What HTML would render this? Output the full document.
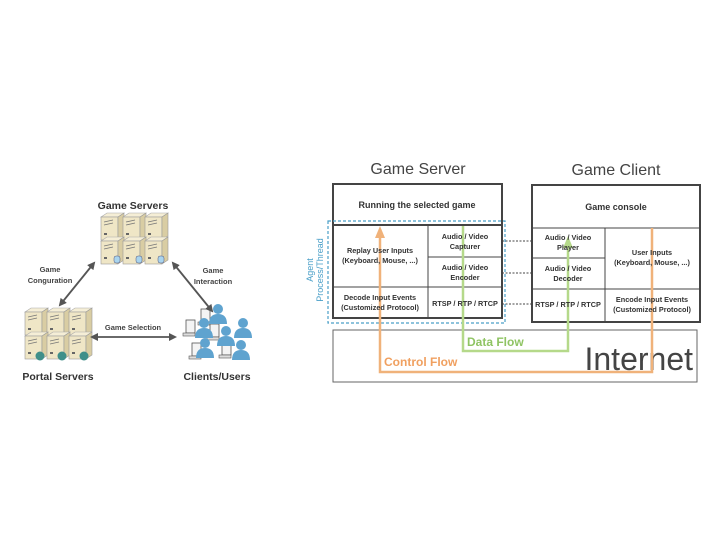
<!DOCTYPE html>
<html><head><meta charset="utf-8"><style>
body{margin:0;background:#fff;}
svg{display:block}
text{font-family:"Liberation Sans",sans-serif;}
</style></head><body>
<svg width="720" height="540" viewBox="0 0 720 540" xmlns="http://www.w3.org/2000/svg">
<defs>
<g id="tw">
<polygon points="0,4 6,0 23,0 17,4" fill="#f5eed6" stroke="#aaa" stroke-width="0.6"/>
<rect x="0" y="4" width="17" height="23" fill="#efe6c6" stroke="#999" stroke-width="0.6"/>
<polygon points="17,4 23,0 23,23 17,27" fill="#d9cda3" stroke="#999" stroke-width="0.6"/>
<line x1="3" y1="9" x2="12" y2="7" stroke="#777" stroke-width="0.8"/>
<line x1="3" y1="12" x2="12" y2="10" stroke="#777" stroke-width="0.8"/>
<rect x="3" y="20" width="3" height="2" fill="#666"/>
</g>
<g id="ps">
<circle cx="0" cy="-8" r="5" fill="#5fa3cf"/>
<path d="M-9,7 Q-9,-3 0,-3 Q9,-3 9,7 Z" fill="#5fa3cf"/>
</g>
<g id="mon">
<rect x="0" y="0" width="9" height="13" fill="#f4f4f4" stroke="#555" stroke-width="0.8"/>
<rect x="-3" y="13" width="12" height="3" fill="#ddd" stroke="#555" stroke-width="0.6"/>
</g>
<marker id="ah" markerWidth="8" markerHeight="8" refX="6" refY="4" orient="auto-start-reverse" markerUnits="userSpaceOnUse"><path d="M0,0 L8,4 L0,8 Z" fill="#555"/></marker>
</defs>

<text x="133" y="209" font-size="10.5" font-weight="bold" text-anchor="middle" fill="#333">Game Servers</text>
<use href="#tw" x="101" y="213"/><use href="#tw" x="123" y="213"/><use href="#tw" x="145" y="213"/>
<use href="#tw" x="101" y="237"/><use href="#tw" x="123" y="237"/><use href="#tw" x="145" y="237"/>
<rect x="114" y="256" width="6" height="7" rx="2" fill="#a9d4ee" stroke="#557" stroke-width="0.5"/>
<rect x="136" y="256" width="6" height="7" rx="2" fill="#a9d4ee" stroke="#557" stroke-width="0.5"/>
<rect x="158" y="256" width="6" height="7" rx="2" fill="#a9d4ee" stroke="#557" stroke-width="0.5"/>

<use href="#tw" x="25" y="308"/><use href="#tw" x="47" y="308"/><use href="#tw" x="69" y="308"/>
<use href="#tw" x="25" y="332"/><use href="#tw" x="47" y="332"/><use href="#tw" x="69" y="332"/>
<circle cx="40" cy="356" r="4.5" fill="#3f8f8a"/><circle cx="62" cy="356" r="4.5" fill="#3f8f8a"/><circle cx="84" cy="356" r="4.5" fill="#3f8f8a"/>
<text x="58" y="380" font-size="10.5" font-weight="bold" text-anchor="middle" fill="#333">Portal Servers</text>

<use href="#mon" x="201" y="309"/><use href="#mon" x="186" y="320"/><use href="#mon" x="210" y="324"/>
<use href="#mon" x="192" y="343"/><use href="#mon" x="222" y="342"/>
<use href="#ps" x="218" y="317"/><use href="#ps" x="204" y="331"/><use href="#ps" x="243" y="331"/>
<use href="#ps" x="226" y="339"/><use href="#ps" x="205" y="351"/><use href="#ps" x="241" y="353"/>
<text x="217" y="380" font-size="10.5" font-weight="bold" text-anchor="middle" fill="#333">Clients/Users</text>

<line x1="94" y1="263" x2="60" y2="305" stroke="#555" stroke-width="1.8" marker-start="url(#ah)" marker-end="url(#ah)"/>
<line x1="173" y1="263" x2="212" y2="311" stroke="#555" stroke-width="1.8" marker-start="url(#ah)" marker-end="url(#ah)"/>
<line x1="92" y1="337" x2="175" y2="337" stroke="#555" stroke-width="1.8" marker-start="url(#ah)" marker-end="url(#ah)"/>
<g font-size="7.5" font-weight="bold" fill="#444" text-anchor="middle">
<text x="50" y="272">Game</text><text x="50" y="283">Conguration</text>
<text x="213" y="273">Game</text><text x="213" y="284">Interaction</text>
<text x="133" y="330">Game Selection</text>
</g>

<text x="418" y="174" font-size="16" text-anchor="middle" fill="#444">Game Server</text>
<text x="616" y="175" font-size="16" text-anchor="middle" fill="#444">Game Client</text>

<rect x="333" y="330" width="364" height="52" fill="#fff" stroke="#666" stroke-width="1"/>
<text x="693" y="370" font-size="32" text-anchor="end" fill="#444">Internet</text>

<g stroke="#444" fill="none">
<rect x="333" y="184" width="169" height="134" stroke-width="2"/>
<line x1="333" y1="225" x2="502" y2="225" stroke-width="2"/>
<line x1="333" y1="287" x2="502" y2="287" stroke-width="1"/>
<line x1="428" y1="225" x2="428" y2="318" stroke-width="1"/>
<line x1="428" y1="257" x2="502" y2="257" stroke-width="1"/>
<rect x="532" y="185" width="168" height="137" stroke-width="2"/>
<line x1="532" y1="228" x2="700" y2="228" stroke-width="1"/>
<line x1="532" y1="289" x2="700" y2="289" stroke-width="1"/>
<line x1="605" y1="228" x2="605" y2="322" stroke-width="1"/>
<line x1="532" y1="258" x2="605" y2="258" stroke-width="1"/>
<g stroke-dasharray="2,1.5" stroke-width="1">
<line x1="502" y1="241" x2="532" y2="241"/><line x1="502" y1="273" x2="532" y2="273"/><line x1="502" y1="304" x2="532" y2="304"/>
</g>
</g>
<rect x="328" y="221" width="177" height="102" fill="none" stroke="#4a9fc8" stroke-width="1.2" stroke-dasharray="3,2"/>
<text transform="translate(313,270) rotate(-90)" font-size="9" text-anchor="middle" fill="#4a9fc8">Agent</text>
<text transform="translate(323,270) rotate(-90)" font-size="9" text-anchor="middle" fill="#4a9fc8">Process/Thread</text>

<polyline points="380,236 380,372 652,372 652,228" fill="none" stroke="#f0b27a" stroke-width="2.5"/>
<polygon points="375,238 380,226 385,238" fill="#f0b27a"/>
<polyline points="463,226 463,351 568,351 568,246" fill="none" stroke="#b5d98a" stroke-width="2.5"/>
<polygon points="563,248 568,236 573,248" fill="#b5d98a"/>
<text x="467" y="346" font-size="12" font-weight="bold" fill="#8fc463">Data Flow</text>
<text x="384" y="366" font-size="12" font-weight="bold" fill="#f0a060">Control Flow</text>

<g font-size="7.3" font-weight="bold" fill="#333" text-anchor="middle">
<text x="417" y="208" font-size="9">Running the selected game</text>
<text x="616" y="210" font-size="9">Game console</text>
<text x="380" y="253">Replay User Inputs</text><text x="380" y="263">(Keyboard, Mouse, ...)</text>
<text x="465" y="239">Audio / Video</text><text x="465" y="249">Capturer</text>
<text x="465" y="270">Audio / Video</text><text x="465" y="280">Encoder</text>
<text x="380" y="300">Decode Input Events</text><text x="380" y="310">(Customized Protocol)</text>
<text x="465" y="306">RTSP / RTP / RTCP</text>
<text x="568" y="240">Audio / Video</text><text x="568" y="250">Player</text>
<text x="568" y="271">Audio / Video</text><text x="568" y="281">Decoder</text>
<text x="652" y="255">User Inputs</text><text x="652" y="265">(Keyboard, Mouse, ...)</text>
<text x="568" y="307">RTSP / RTP / RTCP</text>
<text x="652" y="302">Encode Input Events</text><text x="652" y="312">(Customized Protocol)</text>
</g>
</svg>
</body></html>
